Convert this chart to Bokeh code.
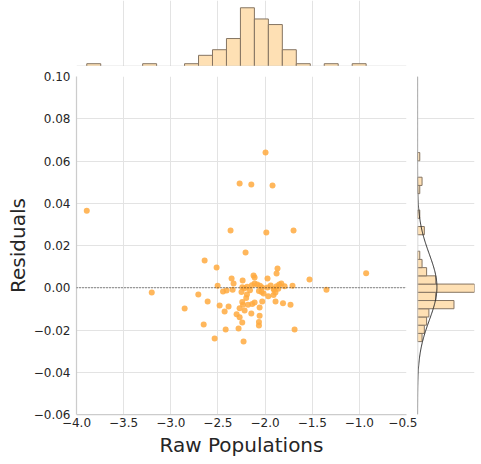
import numpy as np
from bokeh.plotting import figure
from bokeh.layouts import column, row
from bokeh.models import Range1d, FixedTicker, CustomJSTickFormatter, Span
from bokeh.embed import file_html
from bokeh.resources import INLINE

# ---------------- data ----------------
raw_populations = [
    -1.995, -2.270, -2.146, -1.921, -2.366, -1.987, -1.698, -2.207, -2.641, -2.514,
    -1.868, -1.878, -1.529, -2.122, -2.111, -1.974, -2.355, -2.238, -2.334, -2.503,
    -2.111, -2.083, -2.054, -2.030, -2.242, -2.217, -2.344, -2.408, -2.446, -1.974,
    -1.910, -1.878, -1.850, -1.828, -1.793, -1.709, -1.349, -2.708, -2.192, -2.016,
    -1.966, -1.910, -1.903, -2.065, -2.037, -2.609, -2.853, -2.482, -2.387, -2.429,
    -2.242, -2.234, -2.181, -2.136, -2.111, -2.030, -2.058, -1.889, -1.810, -1.730,
    -2.270, -2.217, -2.146, -2.302, -2.270, -2.058, -2.065, -2.065, -2.242, -2.651,
    -2.418, -2.281, -1.687, -2.535, -2.228, -3.891, -3.202, -0.928,
    -2.190, -2.160, -2.140, -2.250, -2.200, -1.940, -1.890, -1.860,
]
residuals = [
    0.0640, 0.0493, 0.0489, 0.0484, 0.0271, 0.0261, 0.0271, 0.0167, 0.0129, 0.0096,
    0.0091, 0.0067, 0.0039, 0.0058, 0.0048, 0.0044, 0.0044, 0.0034, 0.0020, 0.0010,
    0.0020, 0.0015, 0.0009, 0.0001, 0.0002, -0.0002, -0.0009, -0.0013, -0.0018, 0.0001,
    -0.0006, 0.0007, 0.0015, 0.0020, 0.0007, 0.0010, -0.0009, -0.0032, -0.0032, -0.0027,
    -0.0040, -0.0034, -0.0009, -0.0015, -0.0020, -0.0065, -0.0098, -0.0084, -0.0089, -0.0113,
    -0.0067, -0.0080, -0.0080, -0.0077, -0.0070, -0.0065, -0.0094, -0.0065, -0.0073, -0.0080,
    -0.0097, -0.0108, -0.0122, -0.0125, -0.0140, -0.0132, -0.0162, -0.0179, -0.0165, -0.0174,
    -0.0198, -0.0193, -0.0198, -0.0240, -0.0255, 0.0365, -0.0023, 0.0069,
    0.0005, -0.0012, 0.0012, -0.0020, -0.0048, 0.0011, -0.0022, -0.0005,
]
# histogram counts (top: 20 bins over raw populations, right: 23 bins over residuals)
top_hist_counts = [1, 0, 0, 0, 1, 0, 0, 1, 4, 6, 10, 21, 17, 15, 6, 1, 0, 1, 0, 1]
right_hist_counts = [2, 3, 4, 5, 16, 8, 25, 8, 4, 2, 1, 0, 0, 3, 0, 1, 0, 0, 1, 2, 0, 0, 1]

x_ticks = [-4.0, -3.5, -3.0, -2.5, -2.0, -1.5, -1.0, -0.5]
y_ticks = [-0.06, -0.04, -0.02, 0.0, 0.02, 0.04, 0.06, 0.08, 0.10]
x_label = "Raw Populations"
y_label = "Residuals"

# ---------------- derived ----------------
x = np.array(raw_populations)
y = np.array(residuals)
top_counts = np.array(top_hist_counts, dtype=float)
right_counts = np.array(right_hist_counts, dtype=float)
x_edges = np.linspace(x.min(), x.max(), len(top_counts) + 1)
y_edges = np.linspace(y.min(), y.max(), len(right_counts) + 1)

mu, sd = y.mean(), y.std()
bw = y_edges[1] - y_edges[0]
yy = np.linspace(-0.06, 0.10, 400)
xx = len(y) * bw * np.exp(-0.5 * ((yy - mu) / sd) ** 2) / (sd * np.sqrt(2 * np.pi))

# ---------------- style ----------------
FONT = "DejaVu Sans"
TEXT = "#262626"
SPINE = "#cccccc"
GRID = "#e3e3e3"
BAR_FILL = "#fee0b4"
BAR_EDGE = "#857462"
DOT = "#ffaa40"

x_range = Range1d(-4.0, -0.5)
y_range = Range1d(-0.06, 0.10)

# ---------------- main scatter ----------------
main = figure(width=417, height=398, x_range=x_range, y_range=y_range,
              output_backend="svg", toolbar_location=None,
              min_border_left=76, min_border_right=11,
              min_border_top=10, min_border_bottom=50,
              outline_line_color=None, background_fill_color="white")
main.xaxis.ticker = FixedTicker(ticks=x_ticks)
main.yaxis.ticker = FixedTicker(ticks=y_ticks)
main.xaxis.formatter = CustomJSTickFormatter(code="return tick.toFixed(1).replace('-', '\u2212');")
main.yaxis.formatter = CustomJSTickFormatter(code="return tick.toFixed(2).replace('-', '\u2212');")
main.xaxis.axis_label = x_label
main.yaxis.axis_label = y_label
for ax in (main.xaxis[0], main.yaxis[0]):
    ax.axis_line_color = SPINE
    ax.axis_line_width = 1.25
    ax.major_tick_line_color = None
    ax.minor_tick_line_color = None
    ax.major_tick_out = 0
    ax.major_tick_in = 0
    ax.major_label_text_font = FONT
    ax.major_label_text_font_size = "12px"
    ax.major_label_text_color = TEXT
    ax.axis_label_text_font = FONT
    ax.axis_label_text_font_size = "20px"
    ax.axis_label_text_font_style = "normal"
    ax.axis_label_text_color = TEXT
main.xaxis.major_label_standoff = 3
main.xaxis.axis_label_standoff = 3
main.yaxis.major_label_standoff = 6
main.yaxis.axis_label_standoff = 1
main.grid.grid_line_color = GRID
main.grid.grid_line_width = 1

main.add_layout(Span(location=0, dimension="width", line_color="#222222",
                     line_width=1.2, line_dash="1 2"))
main.scatter(x, y, size=6, fill_color=DOT, fill_alpha=0.85, line_color=None)

# ---------------- top histogram ----------------
top = figure(width=417, height=66, x_range=x_range, y_range=Range1d(0, 23.6),
             x_axis_location=None, y_axis_location=None,
             output_backend="svg", toolbar_location=None,
             min_border_left=76, min_border_right=11,
             min_border_top=0, min_border_bottom=0,
             outline_line_color=None)
top.ygrid.visible = False
top.xgrid.ticker = FixedTicker(ticks=x_ticks)
top.xgrid.grid_line_color = GRID
tmask = top_counts > 0
top.quad(left=x_edges[:-1][tmask], right=x_edges[1:][tmask], bottom=0, top=top_counts[tmask],
         fill_color=BAR_FILL, line_color=BAR_EDGE, line_width=1)
top.add_layout(Span(location=0, dimension="width", line_color=SPINE, line_width=1.5))

# ---------------- right histogram ----------------
right = figure(width=64, height=398, x_range=Range1d(0, 25), y_range=y_range,
               x_axis_location=None, y_axis_location=None,
               output_backend="svg", toolbar_location=None,
               min_border_left=0, min_border_right=7,
               min_border_top=10, min_border_bottom=50,
               outline_line_color=None)
right.xgrid.visible = False
right.ygrid.ticker = FixedTicker(ticks=y_ticks)
right.ygrid.grid_line_color = GRID
rmask = right_counts > 0
right.quad(left=0, right=right_counts[rmask], bottom=y_edges[:-1][rmask], top=y_edges[1:][rmask],
           fill_color=BAR_FILL, line_color=BAR_EDGE, line_width=1)
right.line(xx, yy, line_color="#2a2a2a", line_width=1)
right.add_layout(Span(location=0, dimension="height", line_color=SPINE, line_width=1.5))

layout = column(top, row(main, right))
open("out.html", "w").write(file_html(layout, INLINE))
